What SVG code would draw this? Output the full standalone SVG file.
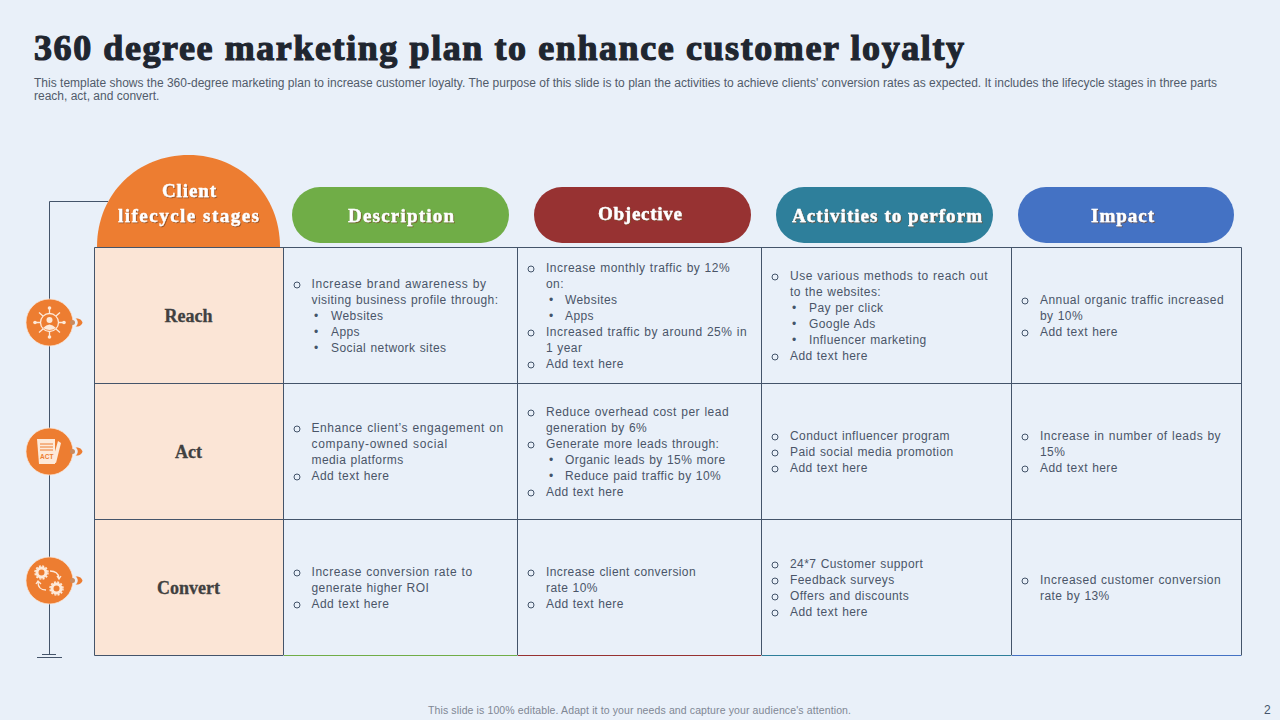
<svg xmlns="http://www.w3.org/2000/svg" width="1280" height="720" viewBox="0 0 1280 720">
<style>
.b{font-family:"Liberation Sans",Arial,sans-serif;font-size:12px;fill:#4a5568;letter-spacing:.42px;word-spacing:.5px}
.m{font-family:"Liberation Sans",Arial,sans-serif;font-size:12px;fill:#44546a}
.h{font-family:"Liberation Serif","Times New Roman",serif;font-weight:700;font-size:19px;fill:#fff;text-anchor:middle;stroke:#fff;stroke-width:.4px;filter:url(#s)}
.r{font-family:"Liberation Serif","Times New Roman",serif;font-weight:700;font-size:18px;fill:#404040;text-anchor:middle;stroke:#404040;stroke-width:.3px}
.g{fill:none;stroke:#44546a;stroke-width:1}
.i{fill:none;stroke:#fde9d9;stroke-width:1.3}
.w{fill:#fde9d9}
.o{fill:#ed7d31}
.c{fill:#ed7d31;stroke:#fbe5d6;stroke-opacity:.7}
.d{fill:#c98a5e}
</style>
<defs>
<filter id="s" x="-10%" y="-20%" width="120%" height="140%"><feDropShadow dx="1" dy="1" stdDeviation=".4" flood-color="#7f4a20" flood-opacity=".7"/></filter>
</defs>
<rect width="1280" height="720" fill="#e9f0f9"/>
<g id="title">
<text x="34" y="60" font-family="'Liberation Serif','Times New Roman',serif" font-weight="700" font-size="36" fill="#1f2630" stroke="#1f2630" stroke-width="1.2" textLength="930" lengthAdjust="spacing">360 degree marketing plan to enhance customer loyalty</text>
<text x="34" y="87" font-family="'Liberation Sans',Arial,sans-serif" font-size="12" fill="#515b6a" textLength="1183" lengthAdjust="spacing">This template shows the 360-degree marketing plan to increase customer loyalty. The purpose of this slide is to plan the activities to achieve clients' conversion rates as expected. It includes the lifecycle stages in three parts</text>
<text x="34" y="100" font-family="'Liberation Sans',Arial,sans-serif" font-size="12" fill="#515b6a">reach, act, and convert.</text>
</g>
<g id="connectors">
<path d="M108 201.500H49.500V654" class="g"/>
<path d="M37 657.500H62M42 654.500H56" class="g"/>
</g>
<g id="head-client">
<path d="M97 247C97 193 138 155 188.500 155S280 193 280 247Z" class="o"/>
<text class="h" x="189" y="197" textLength="54">Client</text>
<text class="h" x="188.500" y="222" textLength="141">lifecycle stages</text>
</g>
<g id="head-description"><rect x="292" y="187" width="217" height="56" rx="28" fill="#70ad47"/><text class="h" x="401" y="222" textLength="106">Description</text></g>
<g id="head-objective"><rect x="534" y="187" width="217" height="56" rx="28" fill="#973232"/><text class="h" x="640" y="220" textLength="84">Objective</text></g>
<g id="head-activities"><rect x="776" y="187" width="217" height="56" rx="28" fill="#2e7f9b"/><text class="h" x="887" y="222" textLength="190">Activities to perform</text></g>
<g id="head-impact"><rect x="1018" y="187" width="216" height="56" rx="28" fill="#4472c4"/><text class="h" x="1122.500" y="222" textLength="63">Impact</text></g>
<g id="table">
<rect x="94.500" y="247.500" width="188.500" height="408" fill="#fbe5d6"/>
<path d="M94.500 655.500H283M94.500 655.500V247.500H1241.500V655.500M283.500 247.500V655.500M517.500 247.500V655.500M761.500 247.500V655.500M1011.500 247.500V655.500M94.500 383.500H1241.500M94.500 519.500H1241.500" fill="none" stroke="#44546a"/>
<path d="M284 655.500H517" stroke="#70ad47" fill="none"/>
<path d="M518 655.500H761" stroke="#973232" fill="none"/>
<path d="M762 655.500H1011" stroke="#2e7f9b" fill="none"/>
<path d="M1012 655.500H1241" stroke="#4472c4" fill="none"/>
</g>
<g id="row-reach"><text class="r" x="188.500" y="322">Reach</text></g>
<g id="row-act"><text class="r" x="188.500" y="458">Act</text></g>
<g id="row-convert"><text class="r" x="188.500" y="594">Convert</text></g>
<g id="cell-reach-description">
<circle class="g" cx="297" cy="285" r="3"/><text class="b" x="311.500" y="288" textLength="175">Increase brand awareness by</text>
<text class="b" x="311.500" y="304" textLength="187">visiting business profile through:</text>
<text class="m" x="314" y="320">•</text><text class="b" x="331" y="320">Websites</text>
<text class="m" x="314" y="336">•</text><text class="b" x="331" y="336">Apps</text>
<text class="m" x="314" y="352">•</text><text class="b" x="331" y="352">Social network sites</text>
</g>
<g id="cell-reach-objective">
<circle class="g" cx="531" cy="269" r="3"/><text class="b" x="546" y="272" textLength="184">Increase monthly traffic by 12%</text>
<text class="b" x="546" y="288">on:</text>
<text class="m" x="549" y="304">•</text><text class="b" x="565" y="304">Websites</text>
<text class="m" x="549" y="320">•</text><text class="b" x="565" y="320">Apps</text>
<circle class="g" cx="531" cy="333" r="3"/><text class="b" x="546" y="336" textLength="201">Increased traffic by around 25% in</text>
<text class="b" x="546" y="352">1 year</text>
<circle class="g" cx="531" cy="365" r="3"/><text class="b" x="546" y="368">Add text here</text>
</g>
<g id="cell-reach-activities">
<circle class="g" cx="775" cy="277" r="3"/><text class="b" x="790" y="280" textLength="198">Use various methods to reach out</text>
<text class="b" x="790" y="296">to the websites:</text>
<text class="m" x="792" y="312">•</text><text class="b" x="809" y="312">Pay per click</text>
<text class="m" x="792" y="328">•</text><text class="b" x="809" y="328">Google Ads</text>
<text class="m" x="792" y="344">•</text><text class="b" x="809" y="344">Influencer marketing</text>
<circle class="g" cx="775" cy="357" r="3"/><text class="b" x="790" y="360">Add text here</text>
</g>
<g id="cell-reach-impact">
<circle class="g" cx="1025" cy="301" r="3"/><text class="b" x="1040" y="304" textLength="184">Annual organic traffic increased</text>
<text class="b" x="1040" y="320">by 10%</text>
<circle class="g" cx="1025" cy="333" r="3"/><text class="b" x="1040" y="336">Add text here</text>
</g>
<g id="cell-act-description">
<circle class="g" cx="297" cy="429" r="3"/><text class="b" x="311.500" y="432" textLength="192">Enhance client’s engagement on</text>
<text class="b" x="311.500" y="448" textLength="136">company-owned social</text>
<text class="b" x="311.500" y="464">media platforms</text>
<circle class="g" cx="297" cy="477" r="3"/><text class="b" x="311.500" y="480">Add text here</text>
</g>
<g id="cell-act-objective">
<circle class="g" cx="531" cy="413" r="3"/><text class="b" x="546" y="416" textLength="183">Reduce overhead cost per lead</text>
<text class="b" x="546" y="432">generation by 6%</text>
<circle class="g" cx="531" cy="445" r="3"/><text class="b" x="546" y="448">Generate more leads through:</text>
<text class="m" x="549" y="464">•</text><text class="b" x="565" y="464">Organic leads by 15% more</text>
<text class="m" x="549" y="480">•</text><text class="b" x="565" y="480">Reduce paid traffic by 10%</text>
<circle class="g" cx="531" cy="493" r="3"/><text class="b" x="546" y="496">Add text here</text>
</g>
<g id="cell-act-activities">
<circle class="g" cx="775" cy="437" r="3"/><text class="b" x="790" y="440">Conduct influencer program</text>
<circle class="g" cx="775" cy="453" r="3"/><text class="b" x="790" y="456">Paid social media promotion</text>
<circle class="g" cx="775" cy="469" r="3"/><text class="b" x="790" y="472">Add text here</text>
</g>
<g id="cell-act-impact">
<circle class="g" cx="1025" cy="437" r="3"/><text class="b" x="1040" y="440" textLength="181">Increase in number of leads by</text>
<text class="b" x="1040" y="456">15%</text>
<circle class="g" cx="1025" cy="469" r="3"/><text class="b" x="1040" y="472">Add text here</text>
</g>
<g id="cell-convert-description">
<circle class="g" cx="297" cy="573" r="3"/><text class="b" x="311.500" y="576" textLength="161">Increase conversion rate to</text>
<text class="b" x="311.500" y="592">generate higher ROI</text>
<circle class="g" cx="297" cy="605" r="3"/><text class="b" x="311.500" y="608">Add text here</text>
</g>
<g id="cell-convert-objective">
<circle class="g" cx="531" cy="573" r="3"/><text class="b" x="546" y="576" textLength="150">Increase client conversion</text>
<text class="b" x="546" y="592">rate 10%</text>
<circle class="g" cx="531" cy="605" r="3"/><text class="b" x="546" y="608">Add text here</text>
</g>
<g id="cell-convert-activities">
<circle class="g" cx="775" cy="565" r="3"/><text class="b" x="790" y="568">24*7 Customer support</text>
<circle class="g" cx="775" cy="581" r="3"/><text class="b" x="790" y="584">Feedback surveys</text>
<circle class="g" cx="775" cy="597" r="3"/><text class="b" x="790" y="600">Offers and discounts</text>
<circle class="g" cx="775" cy="613" r="3"/><text class="b" x="790" y="616">Add text here</text>
</g>
<g id="cell-convert-impact">
<circle class="g" cx="1025" cy="581" r="3"/><text class="b" x="1040" y="584" textLength="181">Increased customer conversion</text>
<text class="b" x="1040" y="600">rate by 13%</text>
</g>
<g id="icon-reach">
<circle cx="49.500" cy="322.500" r="23.500" class="c"/>
<circle cx="49.500" cy="322.500" r="9" class="i"/><circle cx="49.500" cy="320" r="3" class="w"/><path d="M43 328Q49.500 321 56 328Q49.500 332 43 328Z" class="w"/>
<path d="M49.500 313.500V308M49.500 331.500V337M40.500 322.500H35M58.500 322.500H64M43 316L39 312.500M56 316L60 312.500M43 329L39 332.500M56 329L60 332.500" class="i"/>
<circle cx="49.500" cy="308" r="1.800" class="w"/><circle cx="49.500" cy="337" r="1.800" class="w"/><circle cx="35" cy="322.500" r="1.800" class="w"/><circle cx="64" cy="322.500" r="1.800" class="w"/>
<circle cx="72.500" cy="322.500" r="2.500" class="d"/><path d="M75.500 318.500C80 318 82 320.500 82.500 322.500C82 324.500 80 327 75.500 326.500C78.500 324.500 78.500 320.500 75.500 318.500Z" class="o"/>
</g>
<g id="icon-act">
<circle cx="49.500" cy="451.500" r="23.500" class="c"/>
<path d="M58 441L61 443L56 463L52 462Z" class="w"/>
<path d="M37 439H55V464H39Z" class="w"/>
<path d="M40 444H53M40 447H53M40 450H53" stroke="#ed7d31" stroke-width="1"/>
<text x="40" y="459" font-family="'Liberation Sans',Arial,sans-serif" font-weight="700" font-size="6.500" fill="#ed7d31">ACT</text>
<circle cx="72.500" cy="451.500" r="2.500" class="d"/><path d="M75.500 447.500C80 447 82 449.500 82.500 451.500C82 453.500 80 456 75.500 455.500C78.500 453.500 78.500 449.500 75.500 447.500Z" class="o"/>
</g>
<g id="icon-convert">
<circle cx="49.500" cy="580.500" r="23.500" class="c"/>
<circle cx="41.500" cy="572.500" r="4.500" fill="none" stroke="#fde9d9" stroke-width="3"/><circle cx="41.500" cy="572.500" r="6.500" fill="none" stroke="#fde9d9" stroke-width="1.500" stroke-dasharray="2 1.400"/>
<circle cx="56.500" cy="588.500" r="4.500" fill="none" stroke="#fde9d9" stroke-width="3"/><circle cx="56.500" cy="588.500" r="6.500" fill="none" stroke="#fde9d9" stroke-width="1.500" stroke-dasharray="2 1.400"/>
<path d="M50 571Q58 571 59 578M57 576L59 579L61 576M38 582Q38 590 46 590M36 584L38 581L41 584" class="i"/>
<circle cx="72.500" cy="580.500" r="2.500" class="d"/><path d="M75.500 576.500C80 576 82 578.500 82.500 580.500C82 582.500 80 585 75.500 584.500C78.500 582.500 78.500 578.500 75.500 576.500Z" class="o"/>
</g>
<g id="footer">
<text x="428" y="714" font-family="'Liberation Sans',Arial,sans-serif" font-size="10.500" fill="#7f8794" textLength="423">This slide is 100% editable. Adapt it to your needs and capture your audience's attention.</text>
<text x="1264" y="714" font-family="'Liberation Sans',Arial,sans-serif" font-size="12" fill="#44546a">2</text>
</g>
</svg>
